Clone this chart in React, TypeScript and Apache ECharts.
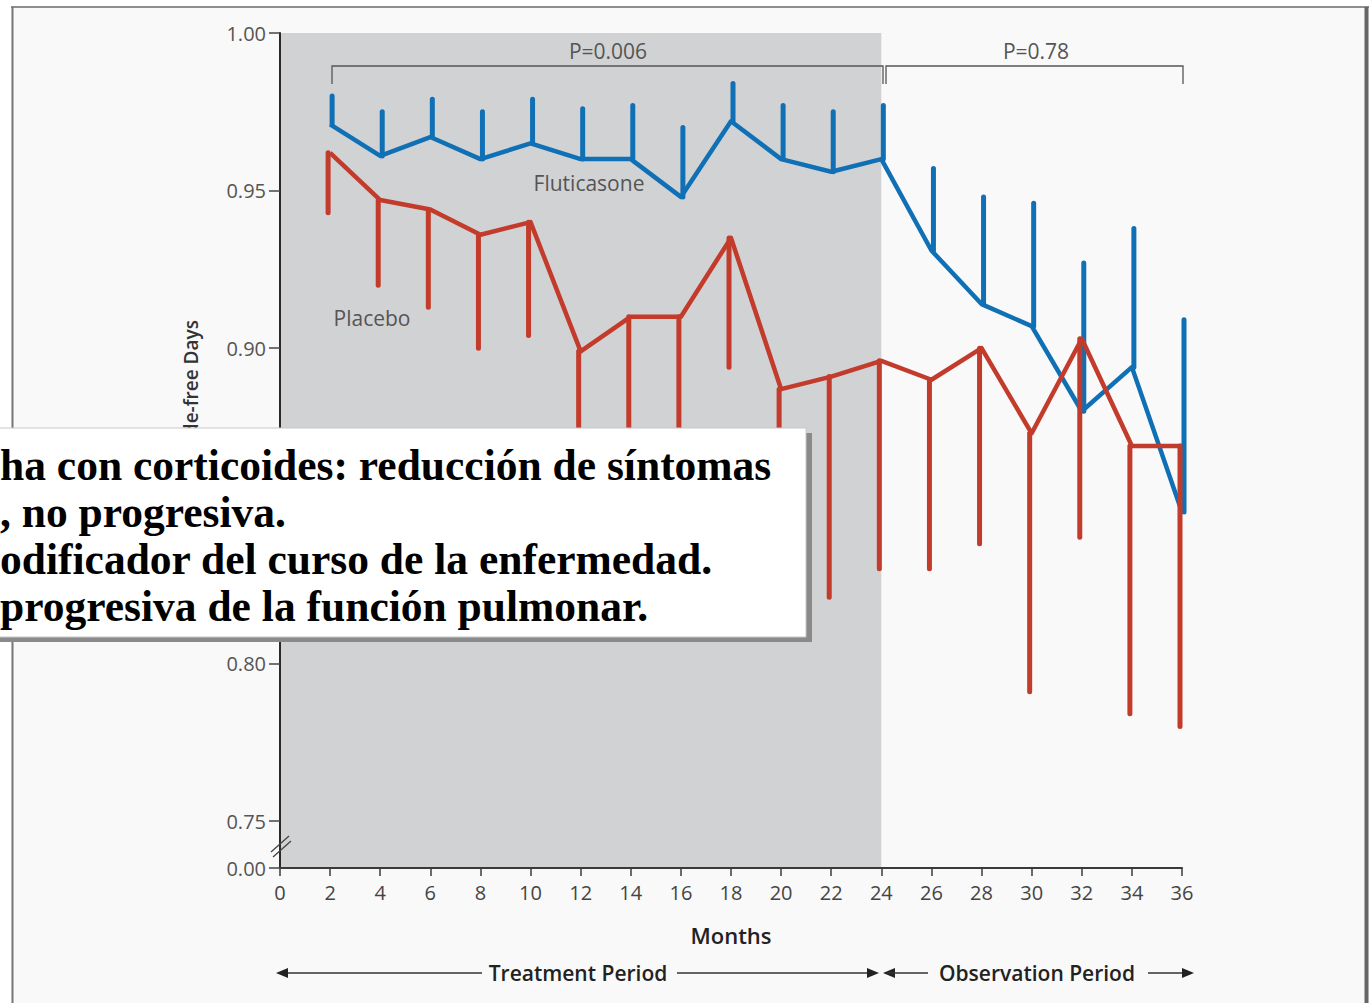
import React, { useEffect, useRef } from "react";
import * as echarts from "echarts";

// Months of follow-up at which the proportion was measured
const months = [2, 4, 6, 8, 10, 12, 14, 16, 18, 20, 22, 24, 26, 28, 30, 32, 34, 36];

// Fluticasone group: mean and upper error bound
const fluticasoneMean = [0.971, 0.961, 0.967, 0.960, 0.965, 0.960, 0.960, 0.948, 0.972, 0.960, 0.956, 0.960, 0.931, 0.914, 0.907, 0.880, 0.894, 0.848];
const fluticasoneUpper = [0.980, 0.975, 0.979, 0.975, 0.979, 0.976, 0.977, 0.970, 0.984, 0.977, 0.975, 0.977, 0.957, 0.948, 0.946, 0.927, 0.938, 0.909];

// Placebo group: mean and lower error bound
const placeboMean = [0.962, 0.947, 0.944, 0.936, 0.940, 0.899, 0.910, 0.910, 0.935, 0.887, 0.891, 0.896, 0.890, 0.900, 0.873, 0.903, 0.869, 0.869];
const placeboLower = [0.943, 0.920, 0.913, 0.900, 0.904, 0.855, 0.862, 0.865, 0.894, 0.852, 0.821, 0.830, 0.830, 0.838, 0.791, 0.840, 0.784, 0.780];

// Y axis: broken scale, bottom value stands for 0.00
const yBreakValue = 0.7351;
const yTickValues = [0.7351, 0.75, 0.8, 0.85, 0.9, 0.95, 1.0];

const boxLines = [
  "ha con corticoides: reducción de síntomas",
  ", no progresiva.",
  "odificador del curso de la enfermedad.",
  "progresiva de la función pulmonar.",
];

const BLUE = "#1070b5";
const RED = "#c23b2b";
const SANS = "'Open Sans', 'Noto Sans', sans-serif";

function errorBars(name: string, mean: number[], bound: number[], color: string, dx: number, z: number) {
  return {
    type: "custom",
    name,
    z,
    data: months.map((m, i) => [m, mean[i], bound[i]]),
    encode: { x: 0, y: [1, 2] },
    renderItem: (_params: any, api: any) => {
      const a = api.coord([api.value(0), api.value(1)]);
      const b = api.coord([api.value(0), api.value(2)]);
      return {
        type: "line",
        shape: { x1: a[0] + dx, y1: a[1], x2: b[0] + dx, y2: b[1] },
        style: { stroke: color, lineWidth: 5, lineCap: "round" },
      };
    },
  };
}

function arrowHead(tipX: number, y: number, dir: number) {
  return {
    type: "polygon",
    z: 20,
    shape: { points: [[tipX, y], [tipX - dir * 12, y - 5], [tipX - dir * 12, y + 5]] },
    style: { fill: "#222" },
  };
}

export default function App() {
  const ref = useRef<HTMLDivElement>(null);

  useEffect(() => {
    const chart = echarts.init(ref.current!, null, { renderer: "svg" });
    const arrowY = 973;

    chart.setOption({
      animation: false,
      backgroundColor: "#f9f9f9",
      grid: { left: 280, right: 187, top: 33, bottom: 135 },
      xAxis: {
        type: "value",
        min: 0,
        max: 36,
        interval: 2,
        z: 5,
        splitLine: { show: false },
        axisLine: { lineStyle: { color: "#3a3a3a", width: 2 } },
        axisTick: { length: 8, lineStyle: { color: "#3a3a3a", width: 1.5 } },
        axisLabel: { color: "#444", fontSize: 20, fontFamily: SANS, margin: 14 },
      },
      yAxis: {
        type: "value",
        min: yBreakValue,
        max: 1.0,
        z: 5,
        splitLine: { show: false },
        axisLine: { show: true, lineStyle: { color: "#2a2a2a", width: 2 } },
        axisTick: { show: true, length: 11, customValues: yTickValues, lineStyle: { color: "#444", width: 1.5 } },
        axisLabel: {
          customValues: yTickValues,
          color: "#555",
          fontSize: 20,
          fontFamily: SANS,
          margin: 14,
          formatter: (v: number) => (v < 0.74 ? "0.00" : v.toFixed(2)),
        },
      },
      series: [
        {
          type: "line",
          name: "shade",
          z: 1,
          data: [],
          silent: true,
          markArea: {
            silent: true,
            itemStyle: { color: "#d1d2d4" },
            data: [[{ xAxis: 0 }, { xAxis: 24 }]],
          },
        },
        errorBars("Fluticasone SE", fluticasoneMean, fluticasoneUpper, BLUE, 2, 3),
        {
          type: "line",
          name: "Fluticasone",
          z: 3,
          data: months.map((m, i) => [m, fluticasoneMean[i]]),
          showSymbol: false,
          symbol: "none",
          lineStyle: { color: BLUE, width: 4.5, join: "round" },
        },
        errorBars("Placebo SE", placeboMean, placeboLower, RED, -2, 4),
        {
          type: "line",
          name: "Placebo",
          z: 4,
          data: months.map((m, i) => [m, placeboMean[i]]),
          showSymbol: false,
          symbol: "none",
          lineStyle: { color: RED, width: 4.5, join: "round" },
        },
      ],
      graphic: [
        // white margin outside the frame
        { type: "rect", z: 50, shape: { x: 0, y: 0, width: 1369, height: 6 }, style: { fill: "#ffffff" } },
        { type: "rect", z: 50, shape: { x: 0, y: 0, width: 11, height: 1003 }, style: { fill: "#ffffff" } },
        // frame
        { type: "line", z: 51, shape: { x1: 11, y1: 7, x2: 1369, y2: 7 }, style: { stroke: "#8e8e8e", lineWidth: 2 } },
        { type: "line", z: 51, shape: { x1: 12.5, y1: 7, x2: 12.5, y2: 1003 }, style: { stroke: "#777", lineWidth: 2 } },
        { type: "line", z: 51, shape: { x1: 1366.5, y1: 7, x2: 1366.5, y2: 1003 }, style: { stroke: "#666", lineWidth: 4 } },
        // axis break marks
        { type: "line", z: 20, shape: { x1: 271, y1: 852, x2: 289, y2: 836 }, style: { stroke: "#444", lineWidth: 1.3 } },
        { type: "line", z: 20, shape: { x1: 273, y1: 857, x2: 291, y2: 841 }, style: { stroke: "#444", lineWidth: 1.3 } },
        // y-axis title (partly covered by the callout)
        {
          type: "text",
          z: 20,
          x: 191,
          y: 320,
          rotation: Math.PI / 2,
          style: {
            text: "Proportion of Episode-free Days",
            fill: "#333",
            font: `600 19px ${SANS}`,
            align: "right",
            verticalAlign: "middle",
          },
        },
        // significance brackets
        { type: "polyline", z: 20, shape: { points: [[332, 84], [332, 66], [883, 66], [883, 84]] }, style: { stroke: "#555", lineWidth: 1.3, fill: "none" } },
        { type: "polyline", z: 20, shape: { points: [[886, 84], [886, 66], [1183, 66], [1183, 84]] }, style: { stroke: "#555", lineWidth: 1.3, fill: "none" } },
        { type: "text", z: 20, x: 608, y: 51, style: { text: "P=0.006", fill: "#555", font: `21px ${SANS}`, align: "center", verticalAlign: "middle" } },
        { type: "text", z: 20, x: 1036, y: 51, style: { text: "P=0.78", fill: "#555", font: `21px ${SANS}`, align: "center", verticalAlign: "middle" } },
        // series labels
        { type: "text", z: 20, x: 589, y: 183, style: { text: "Fluticasone", fill: "#555", font: `21px ${SANS}`, align: "center", verticalAlign: "middle" } },
        { type: "text", z: 20, x: 372, y: 318, style: { text: "Placebo", fill: "#555", font: `21px ${SANS}`, align: "center", verticalAlign: "middle" } },
        // x-axis title
        { type: "text", z: 20, x: 731, y: 935, style: { text: "Months", fill: "#222", font: `600 22px ${SANS}`, align: "center", verticalAlign: "middle" } },
        // period arrows
        { type: "line", z: 20, shape: { x1: 280, y1: arrowY, x2: 482, y2: arrowY }, style: { stroke: "#333", lineWidth: 1.3 } },
        arrowHead(276, arrowY, -1),
        { type: "text", z: 20, x: 578, y: arrowY, style: { text: "Treatment Period", fill: "#222", font: `600 21px ${SANS}`, align: "center", verticalAlign: "middle" } },
        { type: "line", z: 20, shape: { x1: 677, y1: arrowY, x2: 874, y2: arrowY }, style: { stroke: "#333", lineWidth: 1.3 } },
        arrowHead(879, arrowY, 1),
        arrowHead(883, arrowY, -1),
        { type: "line", z: 20, shape: { x1: 887, y1: arrowY, x2: 928, y2: arrowY }, style: { stroke: "#333", lineWidth: 1.3 } },
        { type: "text", z: 20, x: 1037, y: arrowY, style: { text: "Observation Period", fill: "#222", font: `600 21px ${SANS}`, align: "center", verticalAlign: "middle" } },
        { type: "line", z: 20, shape: { x1: 1148, y1: arrowY, x2: 1189, y2: arrowY }, style: { stroke: "#333", lineWidth: 1.3 } },
        arrowHead(1194, arrowY, 1),
        // callout box
        { type: "rect", z: 100, shape: { x: -5, y: 433, width: 817, height: 209 }, style: { fill: "#8a8a8a" } },
        { type: "rect", z: 101, shape: { x: -5, y: 428, width: 811, height: 209 }, style: { fill: "#ffffff", stroke: "#c8c8c8", lineWidth: 1 } },
        ...boxLines.map((line, i) => ({
          type: "text",
          z: 102,
          x: 0,
          y: 465 + i * 47,
          style: {
            text: line,
            fill: "#000",
            font: "bold 43.5px 'Liberation Serif', 'Times New Roman', serif",
            align: "left",
            verticalAlign: "middle",
          },
        })),
      ],
    });

    return () => chart.dispose();
  }, []);

  return <div ref={ref} style={{ position: "fixed", left: 0, top: 0, width: 1369, height: 1003 }} />;
}
